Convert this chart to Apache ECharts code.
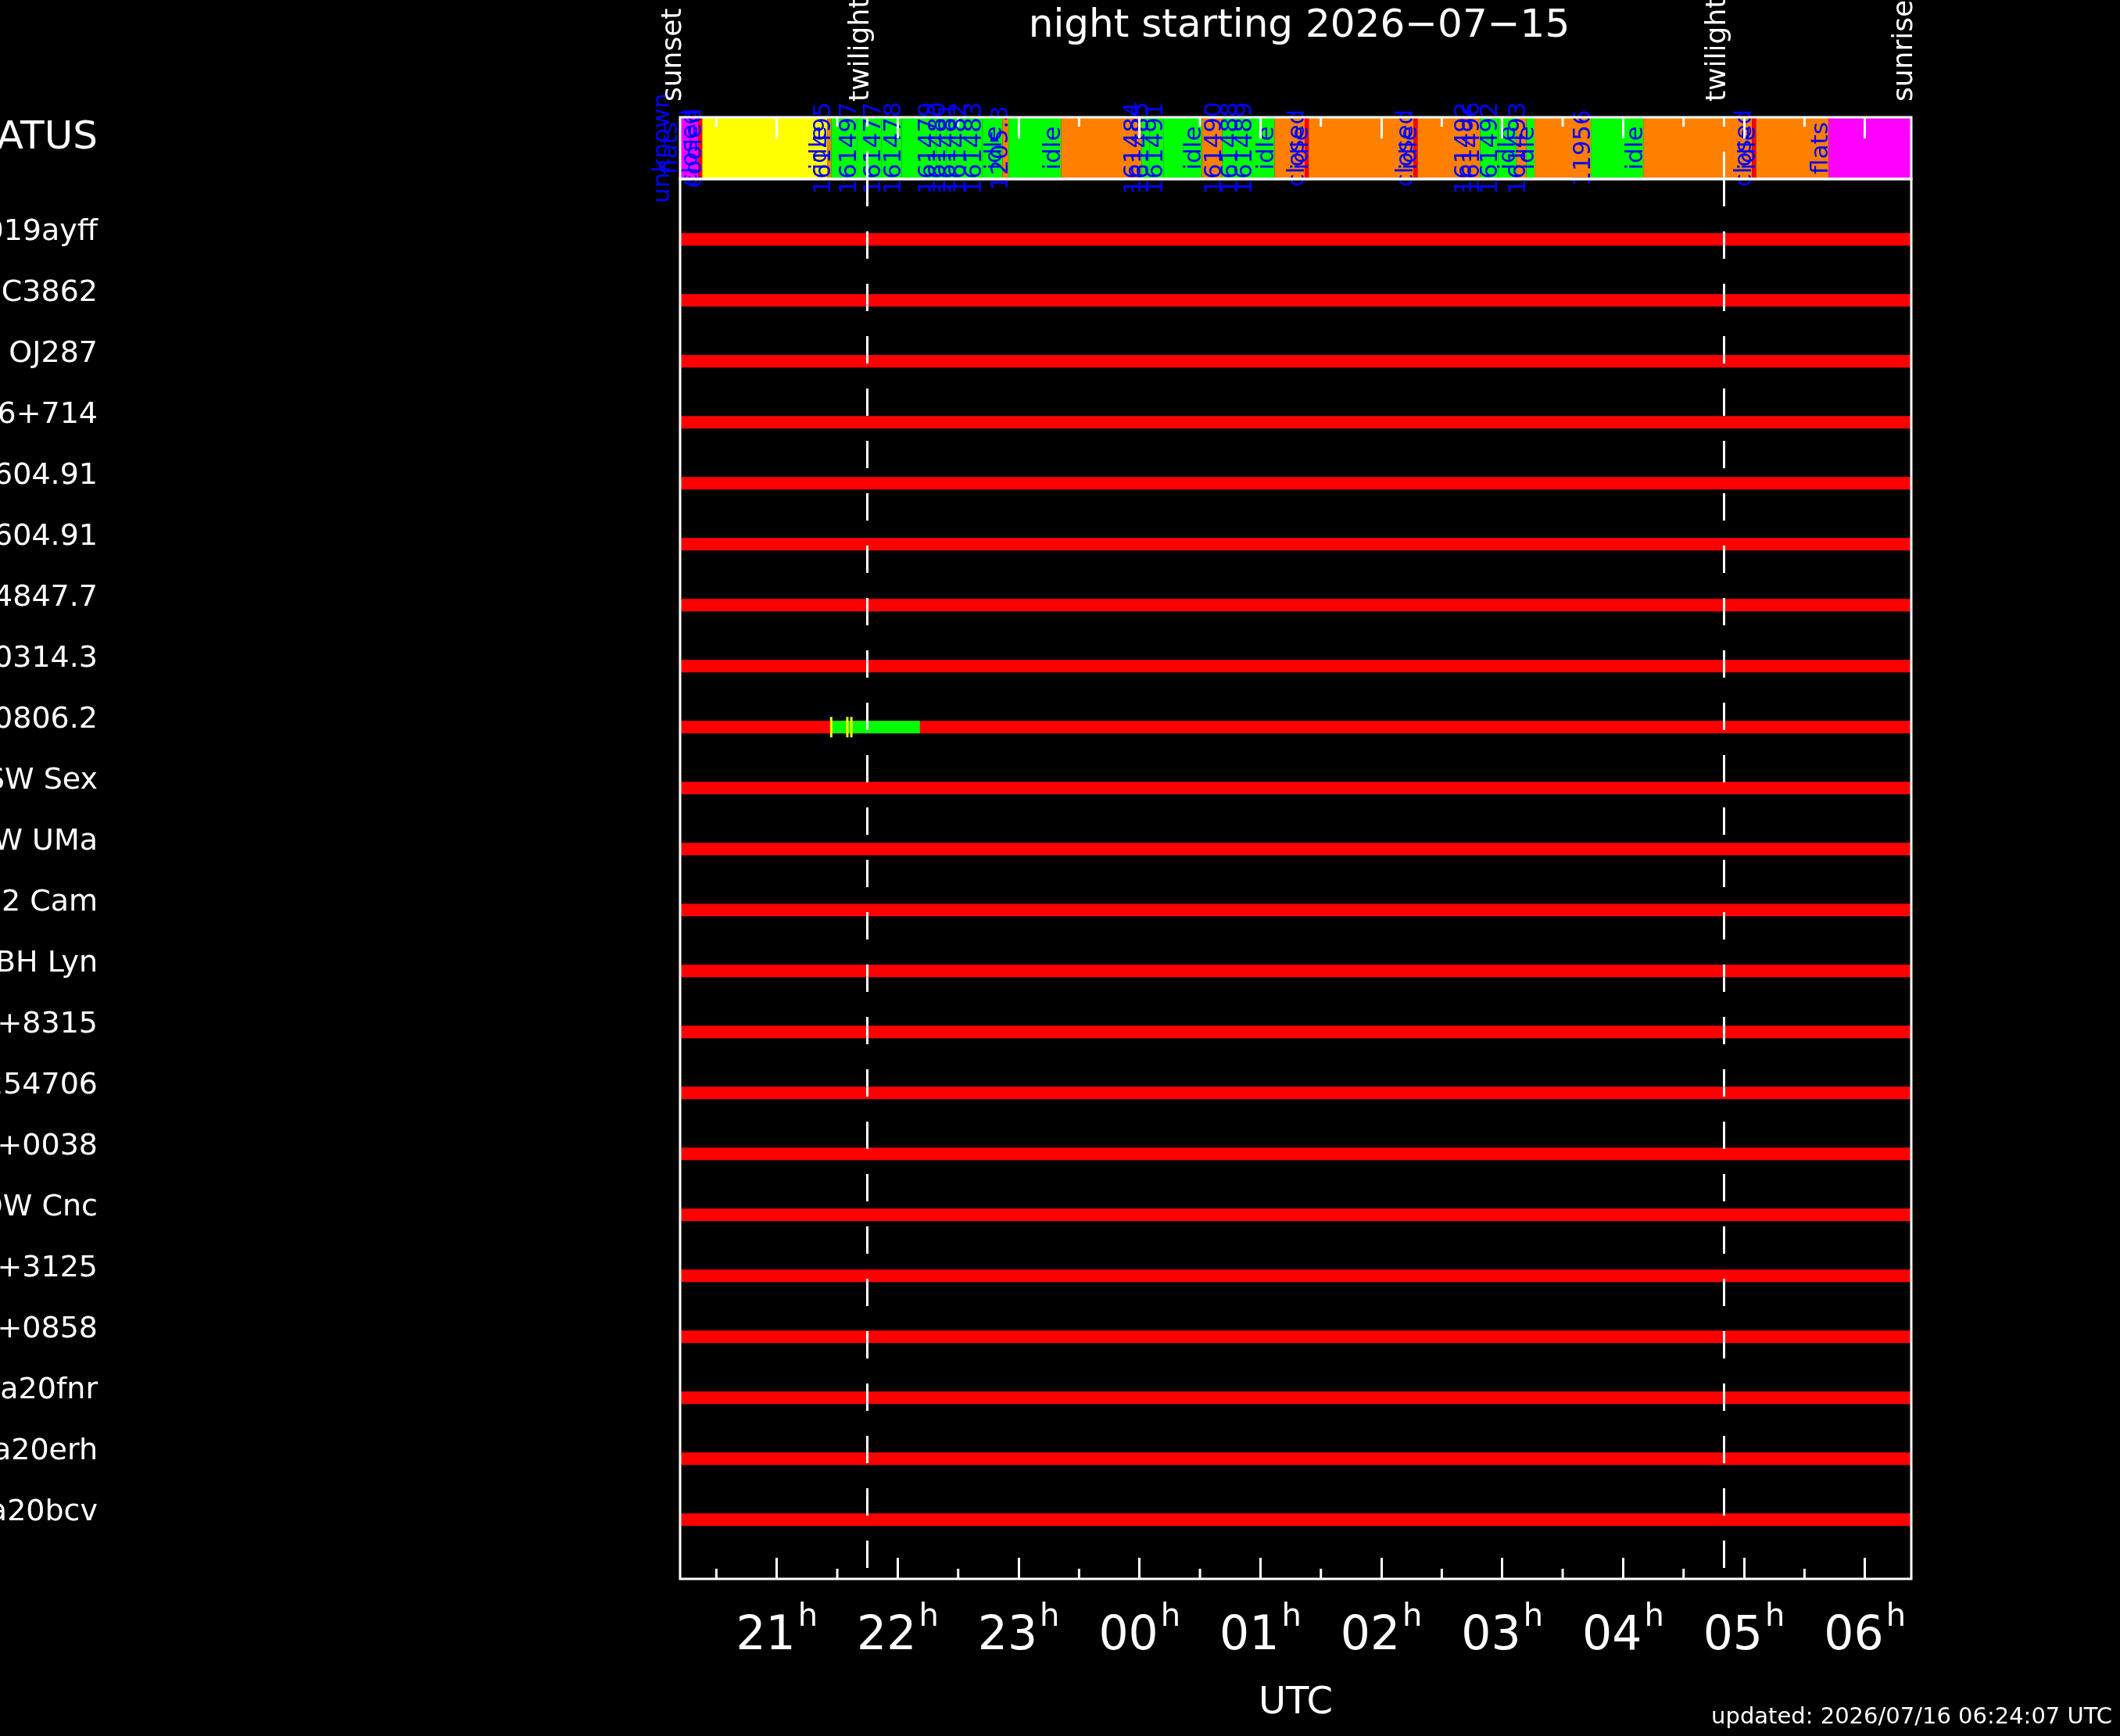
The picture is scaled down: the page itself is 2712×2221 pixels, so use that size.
<!DOCTYPE html>
<html>
<head>
<meta charset="utf-8">
<title>night starting 2026-07-15</title>
<script src="https://cdn.jsdelivr.net/npm/echarts@6/dist/echarts.min.js"></script>
<style>
html, body {margin: 0; padding: 0; background: #000;}
#chart {width: 2712px; height: 2221px;}
</style>
</head>
<body>
<div id="chart"></div>
<script>
// night limits, UTC
var sunset = '20:12';
var sunrise = '06:23';
var twilightTimes = ['21:45', '04:50'];
var markerTimes = ['20:12', '21:45', '04:50', '06:23'];
var markerLabels = ['sunset', 'twilight', 'twilight', 'sunrise'];

var hourTicks = ['21:00', '22:00', '23:00', '00:00', '01:00', '02:00', '03:00', '04:00', '05:00', '06:00'];
var halfTicks = ['20:30', '21:30', '22:30', '23:30', '00:30', '01:30', '02:30', '03:30', '04:30', '05:30'];

// telescope status log
var statusTimes = ['20:07', '20:11', '20:21', '20:23', '21:25', '21:27', '21:40', '21:52', '22:02',
    '22:19', '22:24', '22:29', '22:34', '22:42', '22:52', '22:55', '23:21', '00:01', '00:05', '00:12',
    '00:31', '00:41', '00:49', '00:56', '01:07', '01:22', '01:24', '02:16', '02:18', '02:45', '02:49',
    '02:58', '03:07', '03:12', '03:16', '03:44', '04:10', '05:04', '05:06', '05:42'];
var statusLabels = ['unknown', 'flats', 'closed', 'cooled', 'idle', '161495', '161497', '161477', '161478',
    '161479', '161480', '161481', '161482', '161483', 'idle', '1205.3', 'idle', '161484', '161485', '161491',
    'idle', '161490', '161488', '161489', 'idle', 'closed', 'idle', 'closed', 'idle', '161492', '161496',
    '161492', 'idle', '161493', 'idle', '11956', 'idle', 'closed', 'idle', 'flats'];
var statusStates = ['unknown', 'flats', 'closed', 'ready', 'idle', 'obs', 'obs', 'obs', 'obs',
    'obs', 'obs', 'obs', 'obs', 'obs', 'idle', 'obs', 'idle', 'obs', 'obs', 'obs',
    'idle', 'obs', 'obs', 'obs', 'idle', 'closed', 'idle', 'closed', 'idle', 'idle', 'obs',
    'obs', 'idle', 'obs', 'idle', 'obs', 'idle', 'closed', 'idle', 'flats'];
var stateNames = ['unknown', 'flats', 'closed', 'ready', 'idle', 'obs'];
var stateColors = ['#ff00ff', '#ff00ff', '#ff0000', '#ffff00', '#ff8000', '#00ff00'];

// targets, one row each
var targets = ['AT2019ayff', 'NGC3862', 'S4 OJ287', 'S5 0716+714', 'TOI-1604.91', 'TOI-1604.91',
    'KOI-4847.7', '4FGL J0314.3', '4FGL J0806.2', 'SW Sex', 'AW UMa', 'HD 2 Cam', 'BH Lyn',
    '1RXS J0512+8315', 'HD 254706', 'SDSS J1234+0038', 'DW Cnc', 'SDSS J0750+3125',
    'SDSS J1045+0858', 'Gaia20fnr', 'Gaia20erh', 'Gaia20bcv'];

// observed windows and exposures
var obsRows = [8];
var obsStart = ['21:27'];
var obsEnd = ['22:11'];
var expRows = [8, 8, 8];
var expTimes = ['21:27', '21:35', '21:37'];

var font = '"DejaVu Sans", sans-serif';

function hrs(s) {
    var p = s.split(':');
    var h = +p[0] + p[1] / 60;
    return h < 12 ? h + 24 : h;   // after midnight
}

var tMin = hrs(sunset), tMax = hrs(sunrise);

// status segments: start, end, state
var statusSeg = [];
for (var i = 0; i < statusTimes.length; i++) {
    var end = i + 1 < statusTimes.length ? hrs(statusTimes[i + 1]) : tMax;
    statusSeg.push([hrs(statusTimes[i]), end, stateNames.indexOf(statusStates[i])]);
}

// row bars: row, start, end, kind (0 not observed, 1 observed)
var rowBars = [];
for (var r = 0; r < targets.length; r++) {
    rowBars.push([r, tMin, tMax, 0]);
}
for (var k = 0; k < obsRows.length; k++) {
    rowBars.push([obsRows[k], hrs(obsStart[k]), hrs(obsEnd[k]), 1]);
}
var expData = expTimes.map(function (t, i) { return [hrs(t), expRows[i]]; });

function renderSeg(params, api) {
    var cs = params.coordSys;
    var x0 = Math.max(api.coord([api.value(0), 0])[0], cs.x);
    var x1 = Math.min(api.coord([api.value(1), 0])[0], cs.x + cs.width);
    if (x1 <= x0) return;
    return {
        type: 'rect',
        shape: {x: x0, y: cs.y, width: x1 - x0, height: cs.height},
        style: {fill: stateColors[api.value(2)]}
    };
}

// vertical text, baseline on the event time
function vText(x, y, text, color, size, align) {
    return {
        type: 'text',
        x: x, y: y,
        rotation: Math.PI / 2,
        style: {
            text: text, fill: color, font: size + 'px ' + font,
            align: align, verticalAlign: 'bottom',
            textAlign: align, textVerticalAlign: 'bottom'
        }
    };
}

function renderStatusLabel(params, api) {
    var p = api.coord([api.value(0), 0.5]);
    return vText(p[0] + 6, p[1], statusLabels[params.dataIndex], '#0000ff', 31, 'center');
}

function renderMarker(params, api) {
    var cs = params.coordSys;
    var p = api.coord([api.value(0), 1]);
    return vText(p[0] + 10, cs.y - 20, markerLabels[params.dataIndex], '#ffffff', 36, 'left');
}

function renderRow(params, api) {
    var a = api.coord([api.value(1), api.value(0)]);
    var b = api.coord([api.value(2), api.value(0)]);
    return {
        type: 'rect',
        shape: {x: a[0], y: a[1] - 8, width: b[0] - a[0], height: 16},
        style: {fill: api.value(3) ? '#00ff00' : '#ff0000'}
    };
}

function renderExp(params, api) {
    var p = api.coord([api.value(0), api.value(1)]);
    return {
        type: 'rect',
        shape: {x: p[0] - 1.5, y: p[1] - 13, width: 3, height: 26},
        style: {fill: '#ffff00'}
    };
}

// half-hour ticks: len > 0 hangs down from grid top, len < 0 rises from grid bottom
function halfTickRenderer(len) {
    return function (params, api) {
        var cs = params.coordSys;
        var x = api.coord([api.value(0), 0])[0];
        var y0 = len > 0 ? cs.y : cs.y + cs.height;
        return {
            type: 'line',
            shape: {x1: x, y1: y0, x2: x, y2: y0 + len},
            style: {stroke: '#ffffff', lineWidth: 3}
        };
    };
}

var halfData = halfTicks.map(function (t) { return [hrs(t)]; });

var twilightLine = {
    silent: true,
    symbol: 'none',
    label: {show: false},
    lineStyle: {color: '#ffffff', width: 3, type: [35, 32]},
    data: twilightTimes.map(function (t) { return {xAxis: hrs(t)}; })
};

var chart = echarts.init(document.getElementById('chart'));
var option = {
    backgroundColor: '#000000',
    animation: false,
    title: [
        {
            text: 'night starting 2026\u221207\u221215',
            left: 1657, top: 4, textAlign: 'center',
            textStyle: {color: '#ffffff', fontSize: 50, fontWeight: 'normal', fontFamily: font}
        },
        {
            text: 'updated: 2026/07/16 06:24:07 UTC',
            right: 5, bottom: 4,
            textStyle: {color: '#ffffff', fontSize: 29, fontWeight: 'normal', fontFamily: font}
        }
    ],
    grid: [
        {left: 870, top: 150, width: 1575, height: 79, show: true, z: 10,
            containLabel: false, outerBoundsMode: 'none',
            backgroundColor: 'transparent', borderColor: '#ffffff', borderWidth: 3},
        {left: 870, top: 229, width: 1575, height: 1791, show: true, z: 10,
            containLabel: false, outerBoundsMode: 'none',
            backgroundColor: 'transparent', borderColor: '#ffffff', borderWidth: 3}
    ],
    xAxis: [
        {
            type: 'value', gridIndex: 0, position: 'top', min: tMin, max: tMax, z: 5,
            axisLine: {show: false, onZero: false}, splitLine: {show: false}, axisLabel: {show: false},
            axisTick: {show: true, inside: true, length: 27, customValues: hourTicks.map(hrs),
                lineStyle: {color: '#ffffff', width: 3}}
        },
        {
            type: 'value', gridIndex: 1, position: 'bottom', min: tMin, max: tMax, z: 5,
            axisLine: {show: false, onZero: false}, splitLine: {show: false},
            axisTick: {show: true, inside: true, length: 27, customValues: hourTicks.map(hrs),
                lineStyle: {color: '#ffffff', width: 3}},
            axisLabel: {
                customValues: hourTicks.map(hrs),
                margin: 42,
                formatter: function (v) {
                    var h = Math.round(v) % 24;
                    return '{n|' + (h < 10 ? '0' : '') + h + '}{s|h}';
                },
                rich: {
                    n: {color: '#ffffff', fontSize: 60, fontFamily: font, lineHeight: 62, verticalAlign: 'bottom'},
                    s: {color: '#ffffff', fontSize: 40, fontFamily: font, lineHeight: 40, verticalAlign: 'bottom',
                        padding: [0, 0, 34, 3]}
                }
            },
            name: 'UTC', nameLocation: 'middle', nameGap: 136,
            nameTextStyle: {color: '#ffffff', fontSize: 48, fontFamily: font}
        }
    ],
    yAxis: [
        {
            type: 'value', gridIndex: 0, min: 0, max: 1,
            axisLine: {show: false, onZero: false}, axisTick: {show: false}, splitLine: {show: false},
            axisLabel: {customValues: [0.5], margin: 745, formatter: function () { return 'STATUS'; },
                color: '#ffffff', fontSize: 50, fontFamily: font, verticalAlign: 'bottom', lineHeight: 24}
        },
        {
            type: 'value', gridIndex: 1, inverse: true, min: -0.99, max: 21.97,
            axisLine: {show: false, onZero: false}, axisTick: {show: false}, splitLine: {show: false},
            axisLabel: {customValues: targets.map(function (n, i) { return i; }), margin: 745,
                formatter: function (v) { return targets[Math.round(v)]; },
                color: '#ffffff', fontSize: 38, fontFamily: font, verticalAlign: 'bottom', lineHeight: 18}
        }
    ],
    series: [
        {
            type: 'custom', name: 'status', xAxisIndex: 0, yAxisIndex: 0,
            renderItem: renderSeg, data: statusSeg, encode: {x: [0, 1]},
            markLine: twilightLine
        },
        {
            type: 'custom', name: 'status ticks', xAxisIndex: 0, yAxisIndex: 0, z: 3,
            renderItem: halfTickRenderer(12), data: halfData, encode: {x: 0}
        },
        {
            type: 'custom', name: 'status labels', xAxisIndex: 0, yAxisIndex: 0, z: 4,
            renderItem: renderStatusLabel, data: statusTimes.map(function (t) { return [hrs(t)]; }),
            encode: {x: 0}
        },
        {
            type: 'custom', name: 'sun', xAxisIndex: 0, yAxisIndex: 0, z: 4,
            renderItem: renderMarker, data: markerTimes.map(function (t) { return [hrs(t)]; }),
            encode: {x: 0}
        },
        {
            type: 'custom', name: 'targets', xAxisIndex: 1, yAxisIndex: 1,
            renderItem: renderRow, data: rowBars, encode: {x: [1, 2], y: 0},
            markLine: twilightLine
        },
        {
            type: 'custom', name: 'exposures', xAxisIndex: 1, yAxisIndex: 1, z: 3,
            renderItem: renderExp, data: expData, encode: {x: 0, y: 1}
        },
        {
            type: 'custom', name: 'half hours', xAxisIndex: 1, yAxisIndex: 1, z: 3,
            renderItem: halfTickRenderer(-13), data: halfData, encode: {x: 0}
        }
    ]
};
chart.setOption(option);
</script>
</body>
</html>
